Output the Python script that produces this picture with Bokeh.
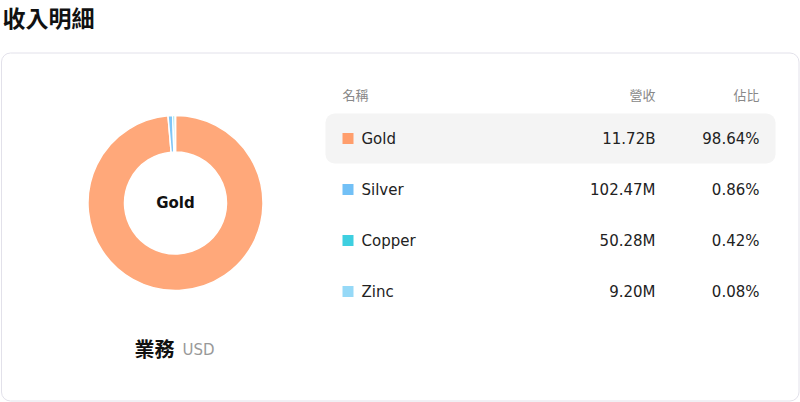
import math
from bokeh.plotting import figure
from bokeh.models import Range1d, ColumnDataSource
from bokeh.core.properties import value
from bokeh.embed import file_html
from bokeh.resources import INLINE

# ---- data ----
names = ["Gold", "Silver", "Copper", "Zinc"]
revenue = [11720.0, 102.47, 50.28, 9.20]  # in millions USD
revenue_labels = ["11.72B", "102.47M", "50.28M", "9.20M"]
share_labels = ["98.64%", "0.86%", "0.42%", "0.08%"]
colors = ["#FF9E6C", "#72C0F6", "#3ECFE0", "#96D9F7"]
headers = ["名稱", "營收", "佔比"]
title = "收入明細"
center_label = "Gold"
footer_label = "業務"
footer_unit = "USD"

W, H = 800, 402
CJK = "Noto Sans CJK TC"
LAT = "DejaVu Sans"

p = figure(width=W, height=H, x_range=Range1d(0, W), y_range=Range1d(0, H),
           output_backend="svg", toolbar_location=None, min_border=0)
p.axis.visible = False
p.grid.visible = False
p.outline_line_color = None
p.background_fill_color = "white"
p.border_fill_color = "white"

def Y(py):
    return H - py

# title
p.text(x=[2], y=[Y(16)], text=[title], text_font=value(CJK), text_font_style="bold",
       text_font_size="23px", text_color="#111111", text_baseline="middle", text_align="left")

# card
p.quad(left=[1], right=[798.5], top=[Y(52.5)], bottom=[Y(400.5)], fill_color="white",
       line_color="#E2E1EA", line_width=1, border_radius=9)

# donut
total = sum(revenue)
cum = [0.0]
for v in revenue:
    cum.append(cum[-1] + v / total)
starts = [math.pi / 2 - 2 * math.pi * cum[i + 1] for i in range(len(revenue))]
ends = [math.pi / 2 - 2 * math.pi * cum[i] for i in range(len(revenue))]
cx, cy = 175, Y(202.5)
src = ColumnDataSource(dict(x=[cx] * len(names), y=[cy] * len(names), s=starts, e=ends, c=colors))
p.annular_wedge(x="x", y="y", inner_radius=51, outer_radius=87.5, start_angle="s", end_angle="e",
                fill_color="c", fill_alpha=0.9, line_color="white", line_width=1.5, source=src)
p.text(x=[cx], y=[cy], text=[center_label], text_font=value(LAT), text_font_style="bold",
       text_font_size="15px", text_color="#111111", text_align="center", text_baseline="middle")

# footer
p.text(x=[134], y=[Y(348)], text=[footer_label], text_font=value(CJK), text_font_style="bold",
       text_font_size="20px", text_color="#111111", text_align="left", text_baseline="middle")
p.text(x=[182], y=[Y(349)], text=[footer_unit], text_font=value(LAT),
       text_font_size="15px", text_color="#999999", text_align="left", text_baseline="middle")

# table header
p.text(x=[342], y=[Y(94)], text=[headers[0]], text_font=value(CJK), text_font_size="13px",
       text_color="#888888", text_align="left", text_baseline="middle")
p.text(x=[655, 759], y=[Y(94), Y(94)], text=headers[1:], text_font=value(CJK), text_font_size="13px",
       text_color="#888888", text_align="right", text_baseline="middle")

# highlight row (first row)
row_y = [Y(138 + 51 * i) for i in range(len(names))]
p.quad(left=[325], right=[775], top=[row_y[0] + 25], bottom=[row_y[0] - 25], fill_color="#F4F4F4",
       line_color=None, border_radius=9)

rows = ColumnDataSource(dict(y=row_y, n=names, r=revenue_labels, s=share_labels, c=colors))
p.scatter(x=347.5, y="y", size=11, marker="square", fill_color="c", line_color=None, source=rows)
p.text(x=361, y="y", text="n", text_font=value(LAT), text_font_size="15px", text_color="#222222",
       text_align="left", text_baseline="middle", source=rows)
p.text(x=655, y="y", text="r", text_font=value(LAT), text_font_size="15px", text_color="#222222",
       text_align="right", text_baseline="middle", source=rows)
p.text(x=759, y="y", text="s", text_font=value(LAT), text_font_size="15px", text_color="#222222",
       text_align="right", text_baseline="middle", source=rows)

open("out.html", "w").write(file_html(p, INLINE))
